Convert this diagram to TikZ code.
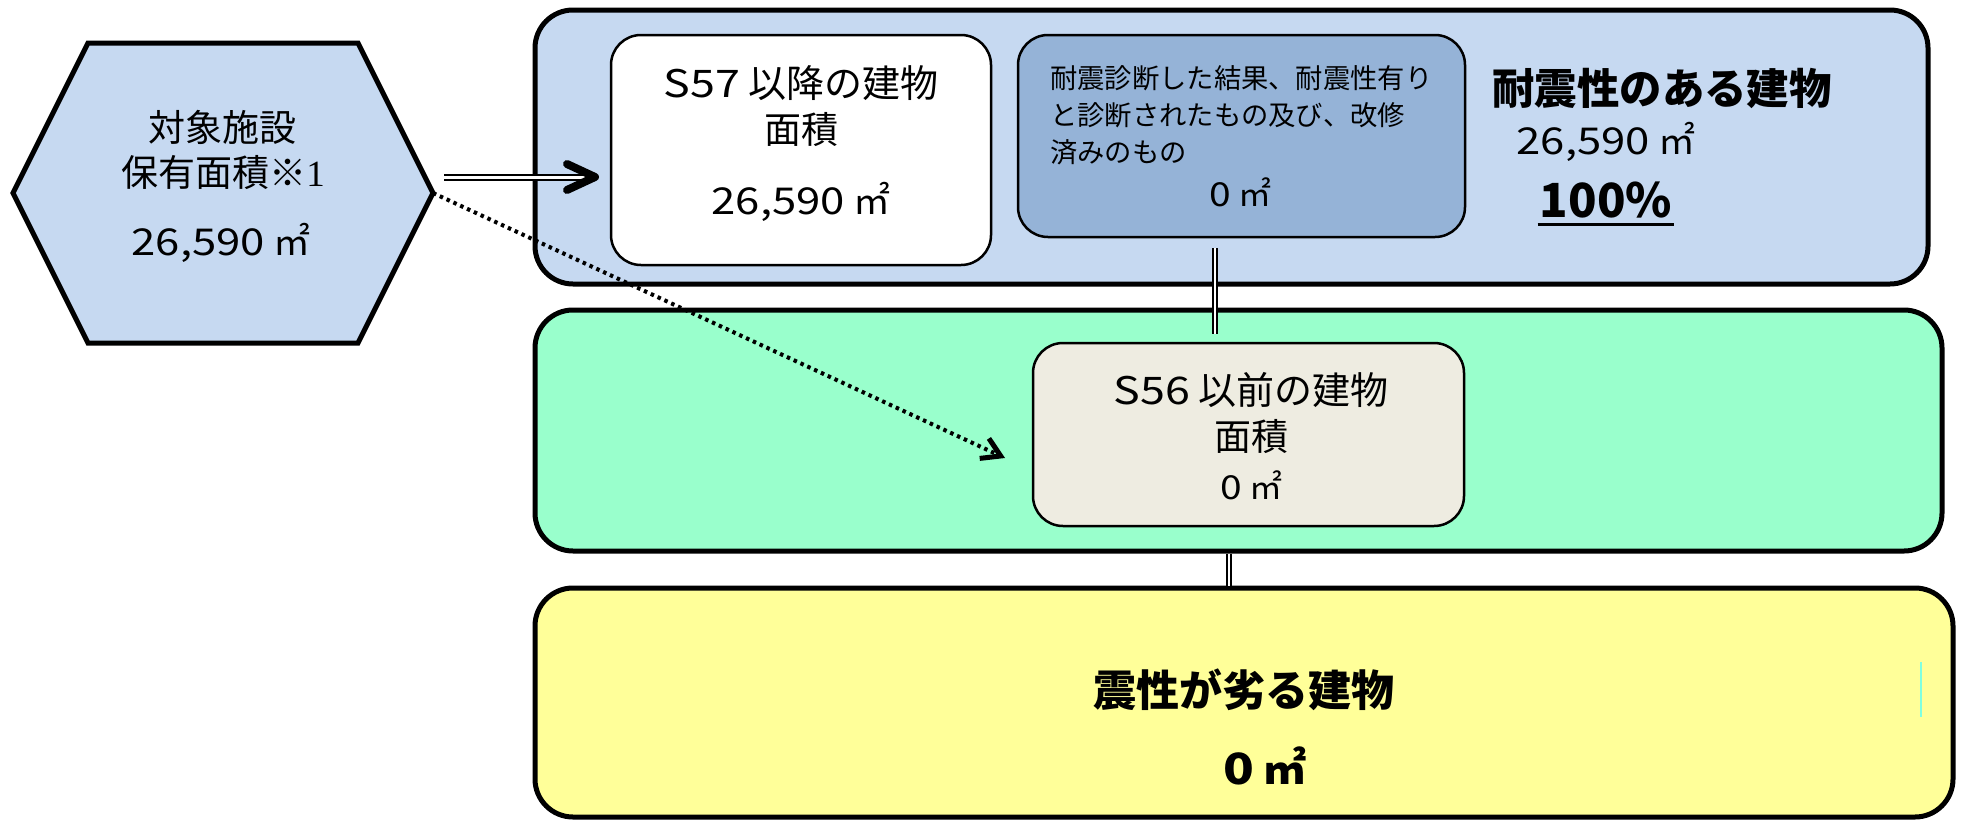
\documentclass[tikz,border=0pt]{standalone}
\usepackage{fontspec}
\setmainfont{Noto Sans CJK JP}
\newfontfamily\numfont[FakeStretch=1.18]{Noto Sans CJK JP}
\newfontfamily\serifone{Liberation Serif}
\usetikzlibrary{arrows.meta,calc}
\definecolor{boxblue}{HTML}{C6D9F1}
\definecolor{darkblue}{HTML}{95B3D7}
\definecolor{mint}{HTML}{99FFCC}
\definecolor{beige}{HTML}{EEECE1}
\definecolor{lightyellow}{HTML}{FFFF99}
\definecolor{aqua}{HTML}{80FFE0}
\begin{document}
\begin{tikzpicture}[x=1pt,y=-1pt,
  outerbox/.style={draw, line width=5pt, rounded corners=38pt, inner sep=0pt},
  innerbox/.style={draw, line width=2.5pt, rounded corners=30pt, inner sep=0pt},
  txt/.style={inner sep=0pt, anchor=center},
  dline/.style={double, double distance=3pt, line width=2pt}]
\useasboundingbox (0,0) rectangle (1961,819);
% outer boxes
\node[outerbox, fill=boxblue, minimum width=1393pt, minimum height=274pt] (top) at (1231.5,147) {};
\node[outerbox, fill=mint, minimum width=1407pt, minimum height=241pt] (mid) at (1238.5,430.5) {};
\node[outerbox, fill=lightyellow, minimum width=1418pt, minimum height=229pt] (bot) at (1244,702.5) {};
% inner boxes
\node[innerbox, fill=white, minimum width=380pt, minimum height=230pt] (s57) at (801,150) {};
\node[innerbox, fill=darkblue, minimum width=447pt, minimum height=202pt] (diag) at (1241.5,136) {};
\node[innerbox, fill=beige, minimum width=431pt, minimum height=183pt] (s56) at (1248.5,434.5) {};
% hexagon
\coordinate (hexE) at (433,193);
\draw[line width=5pt, line join=miter, fill=boxblue] (88,43) -- (358,43) -- (hexE) -- (358,343) -- (88,343) -- (13,193) -- cycle;
\node[txt, font=\fontsize{37}{37}\selectfont] (hex1) at (222,127) {対象施設};
\node[txt, font=\fontsize{37}{37}\selectfont] (hex2) at (223,173) {保有面積※{\serifone 1}};
\node[txt, font=\fontsize{37}{37}\selectfont] (hex3) at (221,243) {{\numfont 26,590} ㎡};
% S57 box texts
\node[txt, font=\fontsize{38}{38}\selectfont] (s57a) at (801,83) {{\numfont S57} 以降の建物};
\node[txt, font=\fontsize{37}{37}\selectfont] (s57b) at (801,130) {面積};
\node[txt, font=\fontsize{37}{37}\selectfont] (s57c) at (801,202) {{\numfont 26,590} ㎡};
% diagnosis box texts
\node[txt, anchor=west, font=\fontsize{27.3}{27.3}\selectfont] (d1) at (1050,78) {耐震診断した結果、耐震性有り};
\node[txt, anchor=west, font=\fontsize{27.3}{27.3}\selectfont] (d2) at (1050,115) {と診断されたもの及び、改修};
\node[txt, anchor=west, font=\fontsize{27.3}{27.3}\selectfont] (d3) at (1050,152) {済みのもの};
\node[txt, font=\fontsize{33}{33}\selectfont] (d4) at (1240,192) {{\numfont 0} ㎡};
% right texts
\node[txt, font=\fontsize{42.4}{42.4}\selectfont\bfseries] (res1) at (1662,88) {耐震性のある建物};
\node[txt, font=\fontsize{37}{37}\selectfont] (res2) at (1606,142) {{\numfont 26,590} ㎡};
\node[txt, font=\fontsize{47}{47}\selectfont\bfseries] (pct) at (1606,200) {100\%};
\draw[line width=3pt] ($(pct.base west)+(-2,7)$) -- ($(pct.base east)+(2,7)$);
% S56 box texts
\node[txt, font=\fontsize{38}{38}\selectfont] (s56a) at (1251,390) {{\numfont S56} 以前の建物};
\node[txt, font=\fontsize{37}{37}\selectfont] (s56b) at (1251,437) {面積};
\node[txt, font=\fontsize{33}{33}\selectfont] (s56c) at (1251,485) {{\numfont 0} ㎡};
% bottom box texts
\node[txt, font=\fontsize{43}{43}\selectfont\bfseries] (w1) at (1244,690) {震性が劣る建物};
\node[txt, font=\fontsize{43}{43}\selectfont\bfseries] (w2) at (1265,766) {{\numfont 0} ㎡};
\draw[aqua, line width=2pt] (1921,662) -- (1921,717);
% connectors
\coordinate (a1) at (444,177);
\coordinate (a2) at (588,177);
\coordinate (atip) at (595,177);
\draw[dline] (a1) -- (a2);
\draw[line width=8pt, line cap=round, line join=round] ($(atip)+(-28,-13)$) -- (atip) -- ($(atip)+(-28,13)$);
\coordinate (dtip) at (1005,458);
\draw[line width=4pt, dash pattern=on 3.5pt off 4pt, -{Straight Barb[length=18pt,width=22pt,line width=5pt]}] (hexE) -- (dtip);
\draw[dline, line width=1.5pt, double distance=2.5pt, shorten <=10pt, shorten >=8pt] (diag.south -| 1215,0) -- (s56.north -| 1215,0);
\draw[dline, line width=1.5pt, double distance=2.5pt] (mid.south -| 1229,0) -- (bot.north -| 1229,0);
\end{tikzpicture}
\end{document}
